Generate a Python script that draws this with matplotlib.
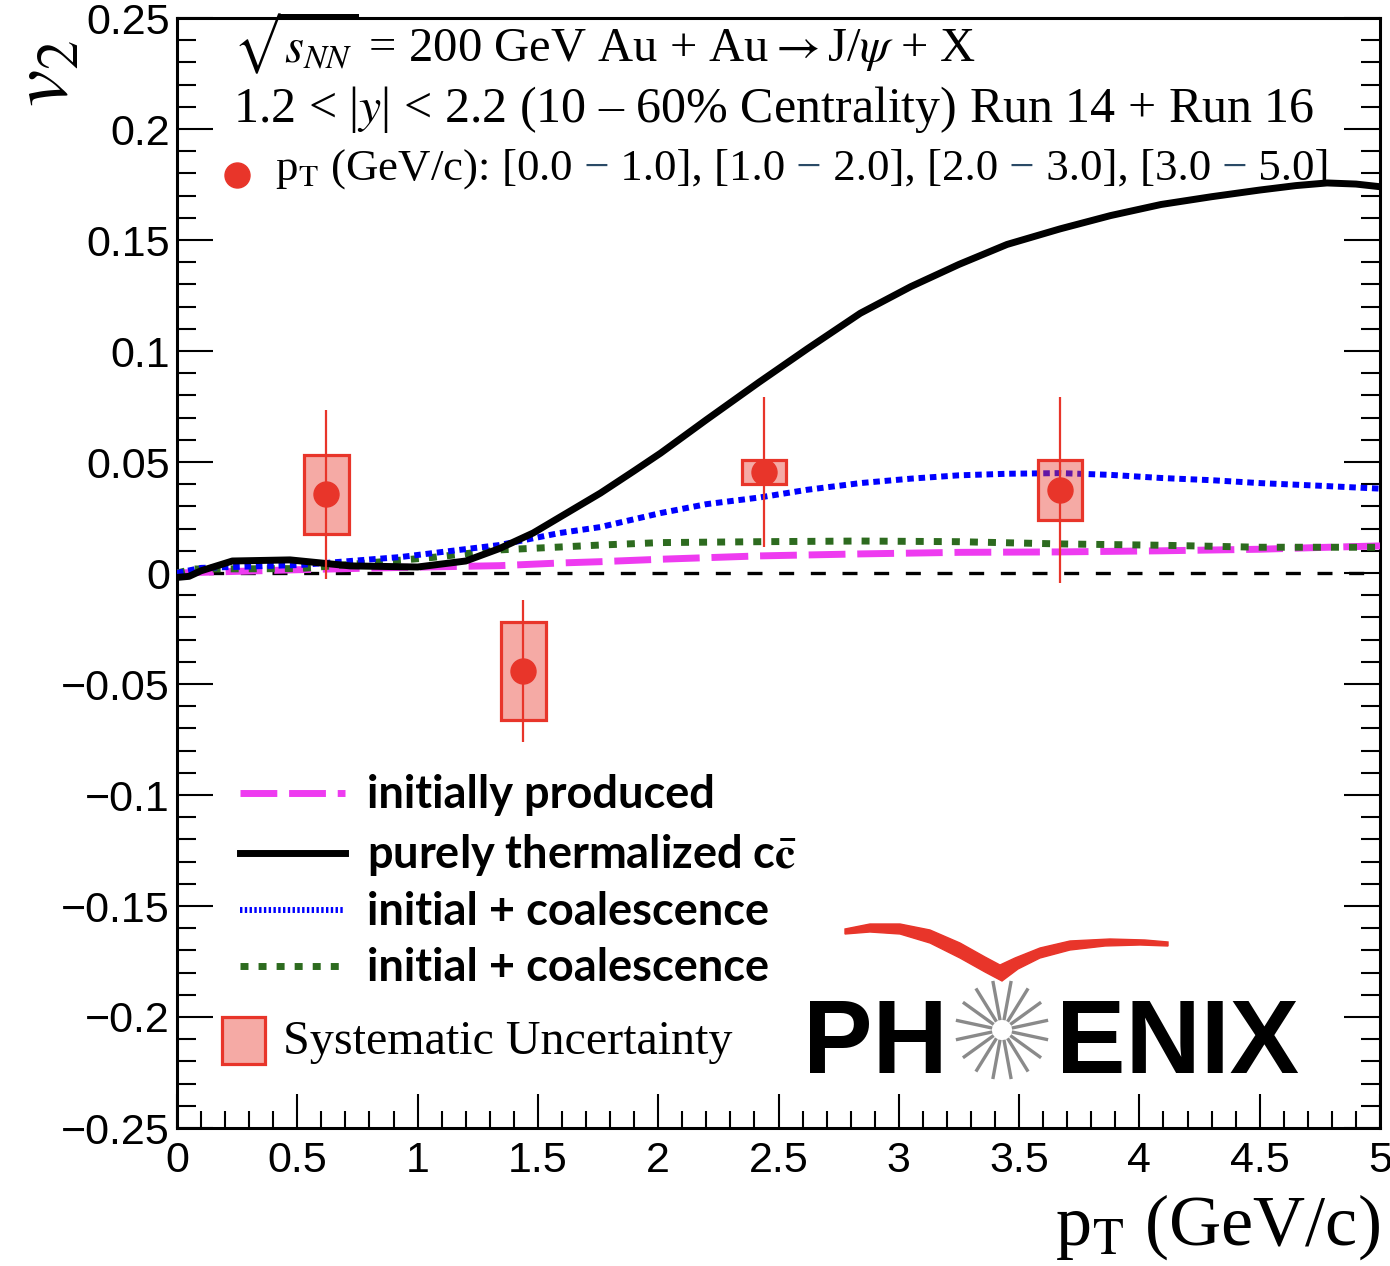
import numpy as np
import matplotlib
matplotlib.use("Agg")
import matplotlib.pyplot as plt
from matplotlib.patches import Rectangle, Polygon

plt.rcParams['mathtext.fontset'] = 'stix'
plt.rcParams['font.family'] = ['Liberation Sans', 'DejaVu Sans']

# J/psi v2 data points (pT bins [0-1], [1-2], [2-3], [3-5])
pt_points = [0.62, 1.44, 2.44, 3.67]
v2_points = [0.0355, -0.0440, 0.0455, 0.0375]
v2_stat = [0.038, 0.032, 0.034, 0.042]
v2_sys = [0.0178, 0.022, 0.0053, 0.0135]

# model curves
pt_thermal = [0.0, 0.05, 0.1, 0.23, 0.47, 0.72, 1.0, 1.2, 1.34, 1.48, 1.62, 1.76, 1.9, 2.01,
              2.2, 2.42, 2.62, 2.84, 3.05, 3.25, 3.45, 3.67, 3.88, 4.09, 4.3, 4.5, 4.65, 4.78, 4.9, 5.0]
v2_thermal = [-0.002, -0.0015, 0.001, 0.0054, 0.0059, 0.0032, 0.0027, 0.0054, 0.011, 0.018, 0.027,
              0.036, 0.046, 0.054, 0.069, 0.086, 0.101, 0.117, 0.129, 0.139, 0.148, 0.155, 0.161, 0.166,
              0.1695, 0.1725, 0.1745, 0.1757, 0.1752, 0.174]

pt_coal_b = [0.0, 0.1, 0.51, 0.93, 1.34, 1.59, 1.76, 2.01, 2.2, 2.42, 2.62, 2.84, 3.05, 3.25, 3.45,
             3.67, 3.88, 4.09, 4.3, 4.5, 4.75, 5.0]
v2_coal_b = [0.0, 0.0023, 0.0036, 0.0072, 0.0126, 0.018, 0.0207, 0.027, 0.031, 0.034, 0.0375,
             0.0405, 0.0425, 0.044, 0.0447, 0.045, 0.0442, 0.0428, 0.0418, 0.0405, 0.0393, 0.038]

pt_coal_g = [0.0, 0.07, 0.51, 0.79, 1.06, 1.34, 1.59, 1.76, 2.01, 2.42, 2.84, 3.25, 3.67, 4.09, 4.5, 5.0]
v2_coal_g = [0.0, 0.0018, 0.002, 0.0045, 0.007, 0.0104, 0.0117, 0.0126, 0.0137, 0.0141, 0.0144,
             0.0141, 0.0131, 0.0125, 0.0116, 0.0116]

pt_init = [0.0, 0.51, 0.93, 1.34, 1.59, 1.76, 2.01, 2.42, 2.84, 3.25, 3.67, 4.09, 4.5, 4.75, 5.0]
v2_init = [0.0, 0.0015, 0.0025, 0.0033, 0.0045, 0.0051, 0.0062, 0.0077, 0.0086, 0.0093, 0.0095,
           0.010, 0.0107, 0.0115, 0.0122]

legend_labels = ["initially produced", r"purely thermalized c$\mathbf{\bar{c}}$",
                 "initial + coalescence", "initial + coalescence"]

RED = '#e8352a'
RED_FILL = (232 / 255, 53 / 255, 42 / 255, 0.42)
MAGENTA = '#ee3bf0'
GREEN = '#2d6b1f'
SLATE = '#2a4a66'
BOX_HALF = 0.093

fig = plt.figure(figsize=(13.9, 12.66), dpi=100)
ax = fig.add_axes([177 / 1390, 1 - 1128 / 1266, 1203 / 1390, 1110 / 1266])

ax.axhline(0, color='black', lw=2.4, dashes=(4.5, 5), zorder=2)
ax.plot(pt_init, v2_init, color=MAGENTA, lw=5, dashes=(5.3, 1.7), zorder=3)
ax.plot(pt_coal_g, v2_coal_g, color=GREEN, lw=5, dashes=(1.15, 1.45), zorder=3)
ax.plot(pt_coal_b, v2_coal_b, color='#0000ff', lw=4.3, dashes=(1.1, 0.8), zorder=3)
ax.plot(pt_thermal, v2_thermal, color='black', lw=5, zorder=4)

for x, y, s in zip(pt_points, v2_points, v2_sys):
    ax.add_patch(Rectangle((x - BOX_HALF, y - s), 2 * BOX_HALF, 2 * s, facecolor=RED_FILL,
                           edgecolor=RED, lw=2.3, zorder=5))
ax.errorbar(pt_points, v2_points, yerr=v2_stat, fmt='o', color=RED, ms=18, elinewidth=1.6,
            capsize=0, zorder=6)

ax.set_xlim(0, 5)
ax.set_ylim(-0.25, 0.25)
ax.set_xticks(np.arange(0, 5.01, 0.5))
ax.set_xticklabels(['0', '0.5', '1', '1.5', '2', '2.5', '3', '3.5', '4', '4.5', '5'])
ax.set_xticks(np.arange(0, 5.01, 0.1), minor=True)
yt = np.arange(-0.25, 0.2501, 0.05)
ax.set_yticks(yt)
ax.set_yticklabels([('\u2212' if v < -1e-9 else '') + ('%g' % abs(round(v, 2))) for v in yt])
ax.set_yticks(np.arange(-0.25, 0.2501, 0.01), minor=True)
ax.tick_params(axis='y', which='both', direction='in', left=True, right=True, width=1.5,
               labelsize=31, pad=5)
ax.tick_params(axis='y', which='major', length=26)
ax.tick_params(axis='y', which='minor', length=14)
ax.tick_params(axis='x', which='both', direction='in', bottom=True, top=False, width=1.5,
               labelsize=31, pad=9)
ax.tick_params(axis='x', which='major', length=24.5)
ax.tick_params(axis='x', which='minor', length=12)
for sp in ax.spines.values():
    sp.set_linewidth(2.2)

serif = ['Liberation Serif', 'DejaVu Serif']
ax.text(0.0466, 0.960, r"$\sqrt{s_{NN}}$ = 200 GeV Au + Au$\rightarrow$J/$\psi$ + X",
        transform=ax.transAxes, fontsize=35, family=serif, va='baseline')
ax.text(0.0466, 0.906, r"1.2 < |$y$| < 2.2 (10 – 60% Centrality) Run 14 + Run 16",
        transform=ax.transAxes, fontsize=36, family=serif, va='baseline')

# third header line, with the range dashes in slate colour
line3 = [(r"p$_{\rm T}$ (GeV/c): [0.0", 'black'), (" \u2212", SLATE), (" 1.0], [1.0", 'black'),
         (" \u2212", SLATE), (" 2.0], [2.0", 'black'), (" \u2212", SLATE), (" 3.0], [3.0", 'black'),
         (" \u2212", SLATE), (" 5.0]", 'black')]
fig.canvas.draw()
renderer = fig.canvas.get_renderer()
xpos = 275
for part, col in line3:
    t = fig.text(xpos / 1390, 1 - 180 / 1266, part, fontsize=32.3, family=serif, color=col, va='baseline')
    bb = t.get_window_extent(renderer=renderer)
    xpos += bb.width
ax.plot([0.05], [0.8585], 'o', color=RED, ms=18, transform=ax.transAxes, clip_on=False)

# overlay in pixel coordinates for legend, axis titles and logo
ov = fig.add_axes([0, 0, 1, 1], facecolor='none')
ov.set_xlim(0, 1390)
ov.set_ylim(1266, 0)
ov.axis('off')

ov.text(46, 74, r"$v_2$", fontsize=60, rotation=90, ha='center', va='center')
ov.text(1380, 1245, r"p$_{\rm T}$ (GeV/c)", fontsize=52, family=serif, ha='right', va='baseline')

styles = [dict(color=MAGENTA, lw=5, dashes=(5.3, 1.7)),
          dict(color='black', lw=5),
          dict(color='#0000ff', lw=4.3, dashes=(0.4, 0.4)),
          dict(color=GREEN, lw=5, dashes=(1.15, 1.45))]
for yy, lab, st in zip([793, 853, 910, 966], legend_labels, styles):
    ov.plot([240, 345], [yy, yy], **st)
    ov.text(367, yy + 2, lab, fontsize=32.5, family=['Lato', 'DejaVu Sans'], fontweight='bold', va='center')
ov.add_patch(Rectangle((222, 1017), 43, 47, facecolor=RED_FILL, edgecolor=RED, lw=2.3))
ov.text(283, 1042, "Systematic Uncertainty", fontsize=34.6, family=serif, va='center')

# PHENIX logo
ov.text(948, 1073, "PH", fontsize=75, fontweight='bold', ha='right', va='baseline')
ov.text(1056, 1073, "ENIX", fontsize=75, fontweight='bold', ha='left', va='baseline')
cx, cy = 1002, 1030
for a in np.arange(0, 360, 22.5):
    t = np.radians(a + 11.25)
    ov.plot([cx + 10 * np.cos(t), cx + 47 * np.cos(t)], [cy + 10 * np.sin(t), cy + 50 * np.sin(t)],
            color='#8a8a8a', lw=2.4, solid_capstyle='butt')
swoosh = [(845, 929), (870, 924), (900, 924), (930, 930), (960, 943), (985, 957), (1000, 965),
          (1015, 958), (1040, 948), (1070, 941), (1110, 939), (1145, 940), (1168, 942),
          (1168, 946), (1140, 945), (1105, 946), (1070, 950), (1040, 958), (1018, 969),
          (1002, 981), (985, 972), (960, 958), (930, 943), (900, 934), (870, 932), (845, 934)]
ov.add_patch(Polygon(swoosh, closed=True, facecolor=RED, edgecolor=RED, lw=1))

fig.savefig("out.png", dpi=100)
